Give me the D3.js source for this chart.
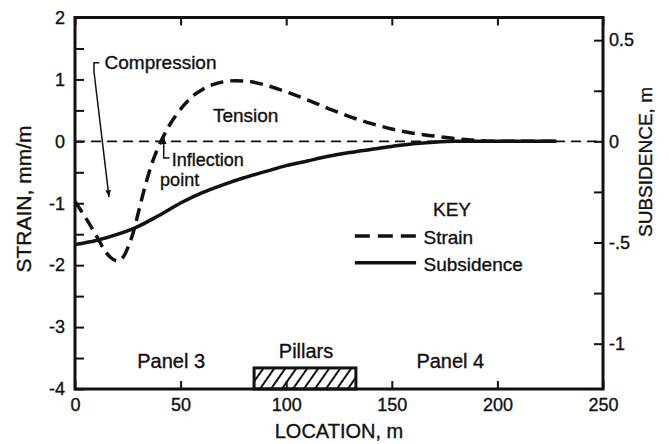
<!DOCTYPE html>
<html>
<head>
<meta charset="utf-8">
<style>
    body { margin: 0; background: #fff; }
    text { font-family: "Liberation Sans", Arial, sans-serif; fill: #111; stroke: #111; stroke-width: 0.35px; }
</style>
</head>
<body>
<svg id="chart" width="669" height="444"></svg>
<script src="https://d3js.org/d3.v7.min.js"></script>
<script>
// location (m) -> strain (mm/m)
const strainX = [0, 4, 8, 11, 14, 17, 20, 23, 25, 27.5, 30, 33, 36, 38.5, 41, 44, 48, 52, 56, 60, 65, 70, 76, 82, 90, 100, 110, 120, 130, 140, 150, 160, 170, 180, 190, 200, 228];
const strainY = [-0.97, -1.18, -1.4, -1.58, -1.76, -1.88, -1.93, -1.86, -1.72, -1.48, -1.15, -0.75, -0.4, -0.17, 0.02, 0.22, 0.43, 0.6, 0.74, 0.83, 0.91, 0.96, 0.98, 0.97, 0.91, 0.8, 0.67, 0.53, 0.4, 0.29, 0.2, 0.13, 0.085, 0.045, 0.015, 0, 0];

// location (m) -> subsidence (m)
const subsX = [0, 10, 20, 30, 40, 50, 60, 70, 80, 90, 100, 110, 120, 130, 140, 150, 160, 170, 180, 228];
const subsY = [-0.51, -0.49, -0.46, -0.42, -0.365, -0.305, -0.255, -0.215, -0.18, -0.15, -0.12, -0.097, -0.074, -0.055, -0.04, -0.025, -0.012, -0.004, 0, 0];

const xTicks = [0, 50, 100, 150, 200, 250];
const strainTicks = [-4, -3.5, -3, -2.5, -2, -1.5, -1, -0.5, 0, 0.5, 1, 1.5, 2];
const subsTicks = [-1, -0.75, -0.5, -0.25, 0, 0.25, 0.5];
const subsLabels = { "0.5": "0.5", "0": "0", "-0.5": "-.5", "-1": "-1" };

// pillars between the panels
const pillars = [84.8, 133];
const pillarTop = -3.66;
const regions = [
    { name: "Panel 3", x: 45.5, y: -3.66 },
    { name: "Pillars", x: 109.4, y: -3.5 },
    { name: "Panel 4", x: 177.7, y: -3.66 }
];

const width = 669, height = 444;
const margin = { top: 17.5, right: 66, bottom: 55, left: 75 };
const svg = d3.select("#chart");

const x = d3.scaleLinear().domain([0, 250]).range([margin.left, width - margin.right]);
const y = d3.scaleLinear().domain([-4, 2]).range([height - margin.bottom, margin.top]);
// right axis shares the zero line, 0.5 m = 1.633 mm/m
const k = 0.306;
const y2 = d3.scaleLinear().domain([-4 * k, 2 * k]).range([height - margin.bottom, margin.top]);

const defs = svg.append("defs");
defs.append("pattern")
    .attr("id", "hatch")
    .attr("patternUnits", "userSpaceOnUse")
    .attr("width", 9)
    .attr("height", 9)
    .attr("patternTransform", "rotate(35)")
    .append("line")
    .attr("x1", 4).attr("y1", 0).attr("x2", 4).attr("y2", 9)
    .attr("stroke", "#111")
    .attr("stroke-width", 2);

defs.append("marker")
    .attr("id", "arrow")
    .attr("viewBox", "0 0 10 10")
    .attr("refX", 10).attr("refY", 5)
    .attr("markerWidth", 7).attr("markerHeight", 7)
    .attr("markerUnits", "userSpaceOnUse")
    .attr("orient", "auto")
    .append("path")
    .attr("d", "M0,1 L10,5 L0,9 Z")
    .attr("fill", "#111");

//axes
function styleAxis(g) {
    g.select(".domain").remove();
    g.selectAll(".tick line").attr("stroke", "#111").attr("stroke-width", 2);
    g.selectAll("text").attr("font-size", 18).attr("fill", "#111");
}

svg.append("g")
    .attr("transform", `translate(0,${height - margin.bottom})`)
    .call(d3.axisBottom(x).tickValues(xTicks).tickSize(-8).tickPadding(9).tickFormat(d => d))
    .call(styleAxis);

svg.append("g")
    .attr("transform", `translate(0,${margin.top})`)
    .call(d3.axisTop(x).tickValues(xTicks).tickSize(-8).tickFormat(""))
    .call(styleAxis);

svg.append("g")
    .attr("transform", `translate(${margin.left},0)`)
    .call(d3.axisLeft(y).tickValues(strainTicks).tickSize(-9).tickPadding(10)
        .tickFormat(d => Number.isInteger(d) ? String(d) : ""))
    .call(styleAxis);

svg.append("g")
    .attr("transform", `translate(${width - margin.right},0)`)
    .call(d3.axisRight(y2).tickValues(subsTicks).tickSize(-9).tickPadding(6)
        .tickFormat(d => subsLabels[String(d)] || ""))
    .call(styleAxis);

// frame
svg.append("rect")
    .attr("x", margin.left)
    .attr("y", margin.top)
    .attr("width", width - margin.left - margin.right)
    .attr("height", height - margin.top - margin.bottom)
    .attr("fill", "none")
    .attr("stroke", "#111")
    .attr("stroke-width", 3);

svg.append("text")
    .attr("x", (margin.left + width - margin.right) / 2)
    .attr("y", 438)
    .attr("text-anchor", "middle")
    .attr("font-size", 20)
    .text("LOCATION, m");

svg.append("text")
    .attr("transform", `translate(31,199) rotate(-90)`)
    .attr("text-anchor", "middle")
    .attr("font-size", 21)
    .text("STRAIN, mm/m");

svg.append("text")
    .attr("transform", `translate(652,162) rotate(-90)`)
    .attr("text-anchor", "middle")
    .attr("font-size", 19)
    .text("SUBSIDENCE, m");

// zero line
svg.append("line")
    .attr("x1", x(0)).attr("x2", x(250))
    .attr("y1", y(0)).attr("y2", y(0))
    .attr("stroke", "#111")
    .attr("stroke-width", 1.6)
    .attr("stroke-dasharray", "10,6");

//curves
const strainLine = d3.line()
    .x((d, i) => x(strainX[i]))
    .y(d => y(d))
    .curve(d3.curveMonotoneX);

const subsLine = d3.line()
    .x((d, i) => x(subsX[i]))
    .y(d => y2(d))
    .curve(d3.curveMonotoneX);

svg.append("path")
    .attr("d", subsLine(subsY))
    .attr("fill", "none")
    .attr("stroke", "#111")
    .attr("stroke-width", 3.5);

svg.append("path")
    .attr("d", strainLine(strainY))
    .attr("fill", "none")
    .attr("stroke", "#111")
    .attr("stroke-width", 3.5)
    .attr("stroke-dasharray", "13,7");

//pillars
svg.append("rect")
    .attr("x", x(pillars[0]))
    .attr("y", y(pillarTop))
    .attr("width", x(pillars[1]) - x(pillars[0]))
    .attr("height", y(-4) - y(pillarTop))
    .attr("fill", "url(#hatch)")
    .attr("stroke", "#111")
    .attr("stroke-width", 3);

svg.selectAll(".region")
    .data(regions)
    .enter()
    .append("text")
    .attr("class", "region")
    .attr("x", d => x(d.x))
    .attr("y", d => y(d.y))
    .attr("text-anchor", "middle")
    .attr("font-size", 20)
    .text(d => d.name);

//annotations
svg.append("path")
    .attr("d", `M${x(11.5)},${y(1.27)} L${x(9)},${y(1.27)} L${x(9)},${y(1.12)}`)
    .attr("fill", "none").attr("stroke", "#111").attr("stroke-width", 1.5);
svg.append("line")
    .attr("x1", x(9)).attr("y1", y(1.12))
    .attr("x2", x(16.1)).attr("y2", y(-0.9))
    .attr("stroke", "#111").attr("stroke-width", 1.5)
    .attr("marker-end", "url(#arrow)");
svg.append("text")
    .attr("x", x(14)).attr("y", y(1.17))
    .attr("font-size", 19)
    .text("Compression");

svg.append("text")
    .attr("x", x(65.3)).attr("y", y(0.32))
    .attr("font-size", 19)
    .text("Tension");

svg.append("path")
    .attr("d", `M${x(44.8)},${y(-0.27)} L${x(42)},${y(-0.27)} L${x(42)},${y(-0.02)}`)
    .attr("fill", "none").attr("stroke", "#111").attr("stroke-width", 1.5);
svg.append("line")
    .attr("x1", x(42)).attr("y1", y(-0.02))
    .attr("x2", x(42)).attr("y2", y(0.07))
    .attr("stroke", "#111").attr("stroke-width", 1.5)
    .attr("marker-end", "url(#arrow)");
svg.append("text")
    .attr("x", x(45.8)).attr("y", y(-0.4))
    .attr("font-size", 18)
    .text("Inflection");
svg.append("text")
    .attr("x", x(40.3)).attr("y", y(-0.72))
    .attr("font-size", 18)
    .text("point");

//key
svg.append("text")
    .attr("x", x(178.5)).attr("y", y(-1.2))
    .attr("text-anchor", "middle")
    .attr("font-size", 19)
    .text("KEY");

const keyItems = [
    { name: "Strain", dash: "15,8", y: -1.53 },
    { name: "Subsidence", dash: null, y: -1.96 }
];
keyItems.forEach(item => {
    svg.append("line")
        .attr("x1", x(132.5)).attr("x2", x(161.5))
        .attr("y1", y(item.y)).attr("y2", y(item.y))
        .attr("stroke", "#111")
        .attr("stroke-width", 3.5)
        .attr("stroke-dasharray", item.dash);
    svg.append("text")
        .attr("x", x(165)).attr("y", y(item.y) + 8)
        .attr("font-size", 19)
        .text(item.name);
});
</script>
</body>
</html>
